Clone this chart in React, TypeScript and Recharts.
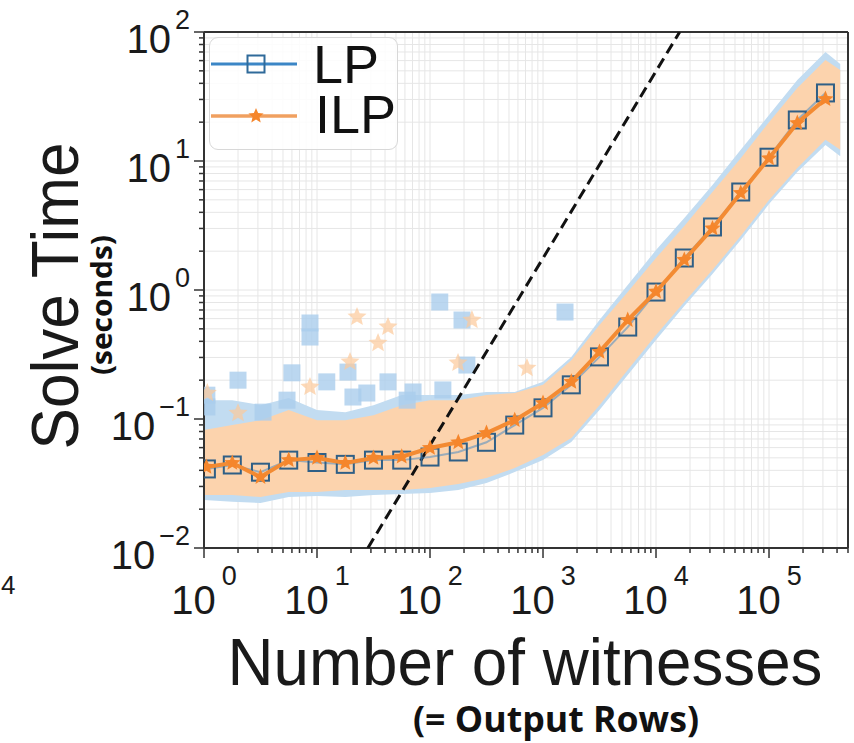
import React from "react";
import {
  ComposedChart,
  XAxis,
  YAxis,
  CartesianGrid,
  Area,
  Scatter,
  ReferenceLine,
  Legend,
} from "recharts";

// axis decades + minor multipliers
const xDecades = [1, 10, 100, 1000, 10000, 100000];
const xExp = ["0", "1", "2", "3", "4", "5"];
const yDecades = [0.01, 0.1, 1, 10, 100];
const yExp = ["\u22122", "\u22121", "0", "1", "2"];
const minorSteps = [1, 2, 3, 4, 5, 6, 7, 8, 9];
const xMax = 500000;

// mean curves (bin centres)
const lineX = [
  1.05, 1.78, 3.16, 5.62, 10, 17.8, 31.6, 56.2, 100, 178, 316, 562, 1000,
  1780, 3160, 5620, 10000, 17800, 31600, 56200, 100000, 178000, 316000,
];
const lpY = [
  0.041, 0.044, 0.0387, 0.048, 0.046, 0.0445, 0.048, 0.048, 0.0507, 0.0555,
  0.066, 0.0897, 0.122, 0.184, 0.303, 0.516, 0.964, 1.77, 3.08, 5.75, 10.7,
  20.8, 33.7,
];
const ilpY = [
  0.0425, 0.0456, 0.0355, 0.048, 0.0499, 0.0456, 0.0499, 0.051, 0.0596, 0.066,
  0.0778, 0.098, 0.133, 0.194, 0.331, 0.585, 0.97, 1.71, 3.0, 5.65, 10.5,
  19.7, 30.2,
];

// spread of the per-instance points
const bandX = [
  1, 1.78, 3.16, 5.62, 10, 17.8, 31.6, 56.2, 100, 178, 316, 562, 1000, 1780,
  3160, 5620, 10000, 17800, 31600, 56200, 100000, 178000, 316000, 427000,
];
const lpBandLow = [
  0.0236, 0.0228, 0.0223, 0.0248, 0.0253, 0.0248, 0.0258, 0.0262, 0.0267,
  0.0282, 0.0319, 0.0388, 0.0481, 0.0664, 0.1175, 0.219, 0.409, 0.751, 1.33,
  2.44, 4.64, 8.22, 13.3, 10.9,
];
const lpBandHigh = [
  0.14, 0.14, 0.128, 0.1455, 0.1175, 0.113, 0.128, 0.1535, 0.1535, 0.1535,
  0.162, 0.162, 0.194, 0.303, 0.585, 1.093, 2.04, 3.61, 6.52, 12.2, 22.7,
  42.5, 70, 56.5,
];
const ilpBandLow = [
  0.0258, 0.0258, 0.0248, 0.0272, 0.0272, 0.0282, 0.0282, 0.0282, 0.0292,
  0.0313, 0.0349, 0.0417, 0.0526, 0.0713, 0.128, 0.24, 0.448, 0.807, 1.43,
  2.62, 4.99, 8.83, 14.6, 12.2,
];
const ilpBandHigh = [
  0.0822, 0.0898, 0.098, 0.1175, 0.098, 0.098, 0.107, 0.128, 0.14, 0.14,
  0.1535, 0.159, 0.184, 0.286, 0.536, 0.965, 1.77, 3.13, 5.75, 10.5, 20,
  36.8, 60.7, 50.7,
];

// stray points above the spread
const lpOutX = [
  8.67, 8.67, 2.0, 6.0, 12.2, 18.8, 42.5, 122, 192, 1566, 212, 130, 70.8, 1.06,
  1.06, 5.43, 3.33, 20.8, 27.6, 62.8,
];
const lpOutY = [
  0.555, 0.432, 0.2, 0.228, 0.194, 0.231, 0.194, 0.807, 0.585, 0.675, 0.262,
  0.168, 0.162, 0.153, 0.124, 0.14, 0.113, 0.148, 0.159, 0.14,
];
const ilpOutX = [22.6, 42.5, 34.7, 19.6, 8.67, 2.0, 1.07, 235, 721, 177];
const ilpOutY = [0.618, 0.517, 0.388, 0.277, 0.177, 0.111, 0.159, 0.585, 0.248, 0.272];

// reference slope
const refX = [28.2, 16200];
const refY = [0.01, 100];

const xTicks: number[] = [];
xDecades.forEach((d) =>
  minorSteps.forEach((m) => {
    if (d * m <= xMax) xTicks.push(d * m);
  })
);
const yTicks: number[] = [];
yDecades.forEach((d, i) =>
  minorSteps.forEach((m) => {
    if (i === yDecades.length - 1 && m > 1) return;
    yTicks.push(d * m);
  })
);

const bandData = bandX.map((x, i) => ({
  x,
  lpBand: [lpBandLow[i], lpBandHigh[i]],
  ilpBand: [ilpBandLow[i], ilpBandHigh[i]],
}));
const lpLine = lineX.map((x, i) => ({ x, y: lpY[i] }));
const ilpLine = lineX.map((x, i) => ({ x, y: ilpY[i] }));
const lpOut = lpOutX.map((x, i) => ({ x, y: lpOutY[i] }));
const ilpOut = ilpOutX.map((x, i) => ({ x, y: ilpOutY[i] }));
const refLine = refX.map((x, i) => ({ x, y: refY[i] }));

const FONT = '"Liberation Sans", Arial, sans-serif';
const BOLD = '"Open Sans", "Noto Sans", sans-serif';

const majorIdx = (list: number[], v: number) =>
  list.findIndex((d) => Math.abs(v / d - 1) < 1e-6);

const XTick = (props: any) => {
  const { x, y, payload } = props;
  const idx = majorIdx(xDecades, payload.value);
  return (
    <g>
      <line x1={x} x2={x} y1={y} y2={y + (idx >= 0 ? 10 : 5)} stroke="#333" strokeWidth={1.5} />
      {idx >= 0 && (
        <text x={x} y={y + 66} textAnchor="middle" fontFamily={FONT} fill="#1a1a1a">
          <tspan fontSize={40}>10</tspan>
          <tspan fontSize={27} dx={6} dy={-29}>
            {xExp[idx]}
          </tspan>
        </text>
      )}
    </g>
  );
};

const YTick = (props: any) => {
  const { x, y, payload } = props;
  const idx = majorIdx(yDecades, payload.value);
  return (
    <g>
      <line x1={x} x2={x - (idx >= 0 ? 10 : 5)} y1={y} y2={y} stroke="#333" strokeWidth={1.5} />
      {idx >= 0 && (
        <text x={x - 14} y={y + 21} textAnchor="end" fontFamily={FONT} fill="#1a1a1a">
          <tspan fontSize={40}>10</tspan>
          <tspan fontSize={27} dx={4} dy={-24}>
            {yExp[idx]}
          </tspan>
        </text>
      )}
    </g>
  );
};

const starPoints = (cx: number, cy: number, r: number) => {
  const pts: string[] = [];
  for (let k = 0; k < 10; k++) {
    const rad = k % 2 === 0 ? r : r * 0.45;
    const a = -Math.PI / 2 + (k * Math.PI) / 5;
    pts.push(`${cx + rad * Math.cos(a)},${cy + rad * Math.sin(a)}`);
  }
  return pts.join(" ");
};

const HollowSquare = (p: any) => (
  <rect x={p.cx - 8.5} y={p.cy - 8.5} width={17} height={17} fill="none" stroke="#2f5f86" strokeWidth={2} />
);
const FilledStar = (p: any) => <polygon points={starPoints(p.cx, p.cy, 8.5)} fill="#f5862c" />;
const CloudSquare = (p: any) => (
  <rect x={p.cx - 8.5} y={p.cy - 8.5} width={17} height={17} fill="#aacdec" fillOpacity={0.8} />
);
const CloudStar = (p: any) => <polygon points={starPoints(p.cx, p.cy, 10)} fill="#fcc99a" fillOpacity={0.7} />;
const NoDot = () => <g />;

const LegendBox = () => (
  <div
    style={{
      width: 189,
      height: 113,
      boxSizing: "border-box",
      border: "1.5px solid #d8d8d8",
      borderRadius: 9,
      background: "rgba(255,255,255,0.85)",
      position: "relative",
      fontFamily: FONT,
      color: "#111",
    }}
  >
    <svg width={100} height={113} style={{ position: "absolute", left: 0, top: 0 }}>
      <line x1={1} x2={87} y1={26} y2={26} stroke="#3b86c6" strokeWidth={3} />
      <rect x={37.5} y={17.5} width={17} height={17} fill="none" stroke="#2f6a9a" strokeWidth={2} />
      <line x1={1} x2={87} y1={78} y2={78} stroke="#f0a060" strokeWidth={3.5} />
      <polygon points={starPoints(46, 78, 8)} fill="#f5862c" />
    </svg>
    <span style={{ position: "absolute", left: 103, top: 6, fontSize: 54, lineHeight: "40px" }}>LP</span>
    <span style={{ position: "absolute", left: 105, top: 56, fontSize: 54, lineHeight: "40px" }}>ILP</span>
  </div>
);

export default function App() {
  return (
    <div style={{ position: "absolute", left: 0, top: 0, width: 854, height: 743, background: "#fff" }}>
      <ComposedChart
        width={854}
        height={743}
        data={bandData}
        margin={{ top: 32, right: 6, bottom: 0, left: 0 }}
      >
        <CartesianGrid stroke="#e6e6e6" strokeWidth={1} />
        <XAxis
          dataKey="x"
          type="number"
          scale="log"
          domain={[1, xMax]}
          allowDataOverflow
          ticks={xTicks}
          interval={0}
          tick={<XTick />}
          tickLine={false}
          tickSize={0}
          tickMargin={0}
          height={195}
          axisLine={{ stroke: "#333", strokeWidth: 2 }}
        />
        <YAxis
          dataKey="y"
          type="number"
          scale="log"
          domain={[0.01, 100]}
          allowDataOverflow
          ticks={yTicks}
          interval={0}
          tick={<YTick />}
          tickLine={false}
          tickSize={0}
          tickMargin={0}
          width={204}
          axisLine={{ stroke: "#333", strokeWidth: 2 }}
        />
        <Area dataKey="lpBand" type="linear" fill="#c2dcf1" fillOpacity={1} stroke="none" isAnimationActive={false} />
        <Scatter data={lpOut} shape={CloudSquare} isAnimationActive={false} />
        <Area dataKey="ilpBand" type="linear" fill="#fcd3ad" fillOpacity={1} stroke="none" isAnimationActive={false} />
        <Scatter data={ilpOut} shape={CloudStar} isAnimationActive={false} />
        <Scatter
          data={refLine}
          shape={NoDot}
          line={{ stroke: "#111", strokeWidth: 3, strokeDasharray: "11 6" }}
          isAnimationActive={false}
        />
        <Scatter
          data={lpLine}
          shape={HollowSquare}
          line={{ stroke: "#3b86c6", strokeWidth: 2, strokeOpacity: 0.5 }}
          isAnimationActive={false}
        />
        <Scatter
          data={ilpLine}
          shape={FilledStar}
          line={{ stroke: "#f38b33", strokeWidth: 4 }}
          isAnimationActive={false}
        />
        <ReferenceLine y={100} stroke="#333" strokeWidth={2} />
        <ReferenceLine x={xMax} stroke="#333" strokeWidth={2} />
        <Legend
          content={() => <LegendBox />}
          layout="horizontal"
          verticalAlign="middle"
          align="center"
          wrapperStyle={{ position: "absolute", left: 209, top: 37, width: 189, height: 113 }}
        />
      </ComposedChart>
      <svg
        width={854}
        height={743}
        style={{ position: "absolute", left: 0, top: 0, pointerEvents: "none" }}
      >
        <text x={525} y={685} textAnchor="middle" fontFamily={FONT} fontSize={66} fill="#1a1a1a" textLength={595} lengthAdjust="spacingAndGlyphs">
          Number of witnesses
        </text>
        <text x={556} y={732} textAnchor="middle" fontFamily={BOLD} fontWeight={700} fontSize={36} fill="#111" textLength={286} lengthAdjust="spacingAndGlyphs">
          (= Output Rows)
        </text>
        <text x={78} y={296} transform="rotate(-90 78 296)" textAnchor="middle" fontFamily={FONT} fontSize={66} fill="#1a1a1a" textLength={307} lengthAdjust="spacingAndGlyphs">
          Solve Time
        </text>
        <text x={112} y={305} transform="rotate(-90 112 305)" textAnchor="middle" fontFamily={BOLD} fontWeight={700} fontSize={28} fill="#111" textLength={140} lengthAdjust="spacingAndGlyphs">
          (seconds)
        </text>
        <text x={1} y={594} fontFamily={FONT} fontSize={26} fill="#1a1a1a">
          4
        </text>
      </svg>
    </div>
  );
}
